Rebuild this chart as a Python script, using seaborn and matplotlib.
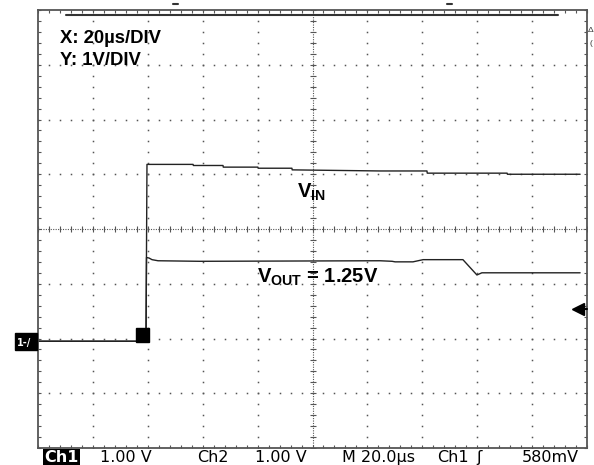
import numpy as np
import matplotlib
matplotlib.use("Agg")
import matplotlib.pyplot as plt
from matplotlib.patches import Rectangle
from matplotlib.lines import Line2D
import seaborn as sns

# scope settings
x_range = (-40, 160)      # us, 20 us/div, 10 div
y_range = (-1.95, 6.05)   # V, 1 V/div, 8 div
trig_level = 0.58         # V

# traces (time in us, volts)
t_vin = [-40, -0.66, -0.3, 4.4, 16.5, 16.6, 27.4, 27.5, 40.1, 40.2, 52.5, 52.6, 84.6, 101.7, 101.8, 130.9, 131.0, 157.5]
v_vin = [0, 0, 3.23, 3.23, 3.23, 3.21, 3.21, 3.18, 3.18, 3.16, 3.16, 3.13, 3.11, 3.11, 3.07, 3.07, 3.05, 3.05]

t_vout = [-40, -0.66, -0.47, 0.44, 1.53, 3.72, 19.0, 84.6, 89.0, 90.1, 96.6, 100.3, 114.8, 119.9, 121.7, 157.5]
v_vout = [0, 0, 1.53, 1.52, 1.49, 1.47, 1.46, 1.47, 1.46, 1.45, 1.45, 1.49, 1.49, 1.21, 1.25, 1.25]

status = ["1.00 V", "Ch2", "1.00 V", "M 20.0µs", "Ch1", "ʃ", "580mV"]
status_x = [100, 197, 255, 342, 437, 476, 522]

sns.set_theme(style="white", rc={"axes.edgecolor": "#555555"})
plt.rcParams["font.family"] = ["Liberation Sans", "DejaVu Sans"]
plt.rcParams["mathtext.fontset"] = "custom"
plt.rcParams["mathtext.bf"] = "Liberation Sans:bold"
plt.rcParams["mathtext.rm"] = "Liberation Sans"

W, H = 594, 465
fig = plt.figure(figsize=(W / 100, H / 100), dpi=100)
fig.patch.set_facecolor("white")


def fx(x):
    return x / W


def fy(y):
    return 1 - y / H


ax = fig.add_axes([fx(38), fy(448), fx(587) - fx(38), fy(10) - fy(448)])
ax.set_facecolor("white")
ax.set_xlim(*x_range)
ax.set_ylim(*y_range)

# graticule
dot_col = "#555555"
xs_minor = np.arange(x_range[0], x_range[1] + 0.01, 4)
ys_minor = np.arange(y_range[0], y_range[1] + 0.01, 0.2)
for gx in [-20, 0, 20, 40, 80, 100, 120, 140]:
    ax.plot([gx] * len(ys_minor), ys_minor, ls="none", marker="s", ms=1.1, mew=0, color=dot_col)
for gy in [-0.95, 0.05, 1.05, 3.05, 4.05, 5.05]:
    ax.plot(xs_minor, [gy] * len(xs_minor), ls="none", marker="s", ms=1.1, mew=0, color=dot_col)

cx, cy = 60, 2.05
ax.axvline(cx, ls=(0, (1, 1.2)), lw=0.8, color=dot_col)
ax.axhline(cy, ls=(0, (1, 1.2)), lw=0.8, color=dot_col)
ax.plot(xs_minor, [cy] * len(xs_minor), ls="none", marker="|", ms=4.5, mew=0.8, color=dot_col)
ax.plot([cx] * len(ys_minor), ys_minor, ls="none", marker="_", ms=4.5, mew=0.8, color=dot_col)

ax.set_xticks(xs_minor)
ax.set_yticks(ys_minor)
ax.tick_params(direction="in", length=2.5, width=0.8, colors="#555555",
               top=True, right=True, bottom=True, left=True,
               labelbottom=False, labelleft=False)
for sp in ax.spines.values():
    sp.set_linewidth(1.3)
    sp.set_color("#555555")

# traces
sns.lineplot(x=np.array(t_vin), y=np.array(v_vin), estimator=None, sort=False,
             color="#222222", lw=1.0, ax=ax)
sns.lineplot(x=np.array(t_vout), y=np.array(v_vout), estimator=None, sort=False,
             color="#222222", lw=1.0, ax=ax)
ax.set_xlabel("")
ax.set_ylabel("")

# trigger point marker
ax.add_patch(Rectangle((-4.3, -0.02), 4.74, 0.26, color="black", zorder=5))

# trigger level arrow on the right
ax.plot([156.7], [trig_level], marker="<", ms=8.5, color="black", clip_on=False, zorder=6)
ax.plot([156.7, 160], [trig_level, trig_level], color="black", lw=1.5, clip_on=False, zorder=6)

# channel 1 ground marker on the left
fig.add_artist(Rectangle((fx(15), fy(350)), fx(22), 17 / H, transform=fig.transFigure,
                         color="black"))
fig.text(fx(17), fy(346), "1-/", color="white", fontsize=7, fontweight="bold",
         family="DejaVu Sans")

# record bar on top
fig.add_artist(Line2D([fx(66), fx(558)], [fy(15), fy(15)], color="#333333", lw=1.5))
fig.add_artist(Line2D([fx(173), fx(178)], [fy(4), fy(4)], color="#333333", lw=1.5))
fig.add_artist(Line2D([fx(447), fx(452)], [fy(4), fy(4)], color="#333333", lw=1.5))
fig.text(fx(588), fy(32), "Δ", fontsize=6, color="#333333")
fig.text(fx(589), fy(45), "(", fontsize=6, color="#333333")

# annotations
lab = dict(fontsize=13.3, fontweight="bold", color="black", va="baseline")
fig.text(fx(60), fy(43), "X: 20µs/DIV", **lab)
fig.text(fx(60), fy(65), "Y: 1V/DIV", **lab)
lab["fontsize"] = 14.5
fig.text(fx(297), fy(198), r"$\mathbf{V_{IN}}$", **lab)
fig.text(fx(257), fy(283), r"$\mathbf{V_{OUT}}$ = 1.25V", **lab)

# status line
st = dict(fontsize=11.5, color="black", va="baseline", family="DejaVu Sans")
fig.text(fx(44), fy(462), "Ch1", color="white", fontsize=11.5, va="baseline",
         family="DejaVu Sans", fontweight="bold",
         bbox=dict(facecolor="black", edgecolor="none", pad=1.0))
for s, x in zip(status, status_x):
    fig.text(fx(x), fy(462), s, **st)

fig.savefig("out.png", dpi=100)
